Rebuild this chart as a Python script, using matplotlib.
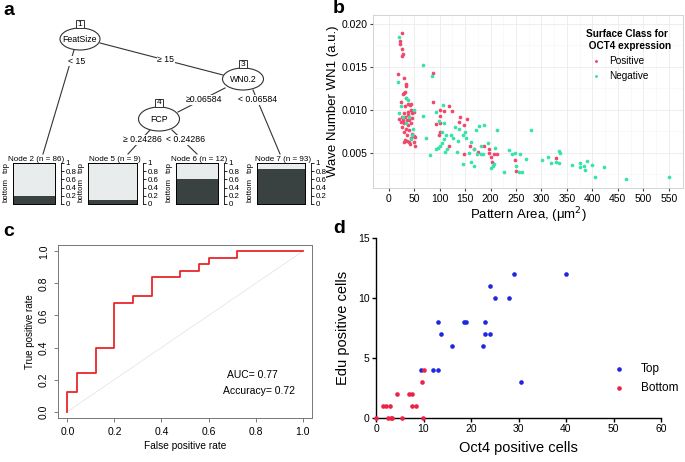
import matplotlib
matplotlib.use("Agg")
import matplotlib.pyplot as plt
from matplotlib.patches import Ellipse, Rectangle
from matplotlib.lines import Line2D

plt.rcParams['font.family'] = ['Liberation Sans', 'DejaVu Sans']

W, H = 685, 462

# ---- panel a: decision tree leaves ----
leaf_names = ["Node 2 (n = 86)", "Node 5 (n = 9)", "Node 6 (n = 12)", "Node 7 (n = 93)"]
leaf_bottom = [0.19, 0.10, 0.60, 0.85]
leaf_ticks = [0, 0.2, 0.4, 0.6, 0.8, 1]
leaf_ticklabels = ["0", "0.2", "0.4", "0.6", "0.8", "1"]

# ---- panel b: pattern area vs wave number ----
pos_area = [26, 23, 22, 25, 27, 26, 18, 30, 33, 31, 28,
            33, 29, 34, 24, 37, 41, 32, 43, 29.5, 25, 32, 37, 28, 35, 40, 30, 37, 43, 46,
            33, 40, 29, 46, 35, 43, 32, 50, 50, 40, 29, 35, 24, 26, 38, 46, 21, 44, 50, 52, 52, 42,
            86, 86, 100, 109, 119, 124, 93, 100, 100, 100, 153, 147, 118, 147, 160, 168, 175,
            188, 196, 196, 201, 203, 207, 212, 247, 249, 328, 140, 138, 98]
pos_wn = [0.0189, 0.0180, 0.0176, 0.0170, 0.0165, 0.0162, 0.0142, 0.0137, 0.0130, 0.0120, 0.0118,
          0.0127, 0.0119, 0.0113, 0.0109, 0.0107, 0.0106, 0.0104, 0.0100, 0.0096, 0.0092, 0.0092,
          0.0094, 0.0088, 0.0088, 0.0088, 0.0084, 0.0082, 0.0084, 0.0090,
          0.0077, 0.0076, 0.0074, 0.0072, 0.0070, 0.0067, 0.0065, 0.0069, 0.0063, 0.0062, 0.0062,
          0.0064, 0.0086, 0.0080, 0.0097, 0.0096, 0.0089, 0.0107, 0.0097, 0.0068, 0.0058, 0.0060,
          0.0143, 0.0109, 0.0100, 0.0098, 0.0104, 0.0098, 0.0083, 0.0093, 0.0084, 0.0074, 0.0089,
          0.0082, 0.0058, 0.0049, 0.0058, 0.0054, 0.0051, 0.0058, 0.0054, 0.0050, 0.0045, 0.0039,
          0.0048, 0.0048, 0.0041, 0.0029, 0.0044, 0.0092, 0.0086, 0.0070]
neg_area = [21, 19, 33, 38, 24, 21, 39, 33, 47, 46, 43, 68, 85, 68, 74, 106, 93, 109, 98,
            81, 92, 96, 100, 104, 108, 113, 104, 110, 115, 123, 126, 130, 136, 137, 145, 149,
            151, 135, 145, 157, 161, 167, 172, 177, 188, 212, 162, 168, 174, 181, 181, 185,
            195, 209, 201, 204, 206, 227, 237, 242, 247, 258, 269, 250, 256, 262, 280, 301,
            313, 319, 328, 334, 336, 335, 359, 376, 376, 384, 386, 389, 400, 405, 422, 466,
            550, 50, 28]
neg_wn = [0.0185, 0.0132, 0.0113, 0.0111, 0.0104, 0.0096, 0.0091, 0.0084, 0.0077, 0.0071,
          0.0066, 0.0152, 0.0139, 0.0093, 0.0067, 0.0105, 0.0097, 0.0084, 0.0087,
          0.0047, 0.0054, 0.0055, 0.0058, 0.0061, 0.0066, 0.0070, 0.0074, 0.0051, 0.0054,
          0.0070, 0.0067, 0.0080, 0.0064, 0.0078, 0.0070, 0.0074, 0.0067, 0.0051, 0.0037,
          0.0050, 0.0062, 0.0054, 0.0076, 0.0081, 0.0082, 0.0076, 0.0039, 0.0035, 0.0049,
          0.0048, 0.0058, 0.0049, 0.0061, 0.0055, 0.0032, 0.0035, 0.0037, 0.0028, 0.0053,
          0.0049, 0.0050, 0.0048, 0.0043, 0.0035, 0.0028, 0.0028, 0.0076, 0.0041, 0.0045,
          0.0038, 0.0039, 0.0052, 0.0050, 0.0038, 0.0036, 0.0038, 0.0033, 0.0034, 0.0030,
          0.0040, 0.0036, 0.0022, 0.0033, 0.0019, 0.0022, 0.0100, 0.0091]

# ---- panel c: ROC curve ----
fpr = [0, 0, 0.04, 0.04, 0.12, 0.12, 0.20, 0.20, 0.28, 0.28, 0.36, 0.36, 0.48, 0.48,
       0.56, 0.56, 0.60, 0.60, 0.72, 0.72, 1.0]
tpr = [0, 0.12, 0.12, 0.24, 0.24, 0.40, 0.40, 0.68, 0.68, 0.72, 0.72, 0.84, 0.84, 0.88,
       0.88, 0.92, 0.92, 0.96, 0.96, 1.0, 1.0]

# ---- panel d: Oct4 vs Edu ----
top_oct4 = [40, 29, 24, 25, 28, 13, 18.5, 19, 23, 13.6, 23, 24, 16, 22.5, 9.5, 12, 13, 30.5]
top_edu = [12, 12, 11, 10, 10, 8, 8, 8, 8, 7, 7, 7, 6, 6, 4, 4, 4, 3]
bot_oct4 = [10, 9.6, 4.5, 7, 7.5, 1.5, 2, 3, 7.5, 8.5, 0, 2.6, 3.1, 3.4, 5.4, 9.8]
bot_edu = [4, 3, 2, 2, 2, 1, 1, 1, 1, 1, 0, 0, 0, 0, 0, 0]


def box(x0, y0, x1, y1):
    return [x0 / W, 1 - y1 / H, (x1 - x0) / W, (y1 - y0) / H]


fig = plt.figure(figsize=(6.85, 4.62), dpi=100)

# tree drawing layer in pixel coordinates
ax0 = fig.add_axes([0, 0, 1, 1])
ax0.set_xlim(0, W)
ax0.set_ylim(H, 0)
ax0.axis("off")

edges = [((74, 50), (43, 154), "< 15", (77, 61)),
         ((100, 43), (223, 75), "\u2265 15", (166, 60)),
         ((225, 88), (178, 112), "\u22650.06584", (204, 100)),
         ((253, 90), (280, 154), "< 0.06584", (258, 100)),
         ((150, 130), (128, 154), "\u2265 0.24286", (142, 140)),
         ((172, 130), (197, 154), "< 0.24286", (186, 140))]
for p0, p1, lab, lp in edges:
    ax0.add_line(Line2D([p0[0], p1[0]], [p0[1], p1[1]], color="#333333", lw=0.8, zorder=1))
    ax0.text(lp[0], lp[1], lab, fontsize=6.3, ha="center", va="center", zorder=3,
             bbox=dict(fc="white", ec="none", pad=0.3))

inner = [(80, 39, 40, 22, "FeatSize", "1"),
         (243, 79, 41, 22, "WN0.2", "3"),
         (159, 119, 41, 24, "FCP", "4")]
for cx, cy, ew, eh, name, nid in inner:
    ax0.add_patch(Ellipse((cx, cy), ew, eh, fc="white", ec="#333333", lw=0.8, zorder=2))
    ax0.text(cx, cy, name, fontsize=6.3, ha="center", va="center", zorder=3)
    ax0.add_patch(Rectangle((cx - 4, cy - eh / 2 - 8), 8, 8, fc="white", ec="#333333",
                            lw=0.7, zorder=3))
    ax0.text(cx, cy - eh / 2 - 4, nid, fontsize=6, ha="center", va="center", zorder=4)

leaf_x = [(13, 55), (88, 137), (176, 218), (257, 305)]
for (x0, x1), name, frac in zip(leaf_x, leaf_names, leaf_bottom):
    ax = fig.add_axes(box(x0, 163, x1, 204))
    ax.bar(0.5, frac, width=1, color="#3a4141", edgecolor="none")
    ax.bar(0.5, 1 - frac, bottom=frac, width=1, color="#e9ecec", edgecolor="none")
    ax.set_xlim(0, 1)
    ax.set_ylim(0, 1)
    ax.set_xticks([])
    ax.set_yticks([])
    for s in ax.spines.values():
        s.set_linewidth(0.7)
    ax2 = ax.twinx()
    ax2.set_ylim(0, 1)
    ax2.set_yticks(leaf_ticks, leaf_ticklabels)
    ax2.tick_params(axis="y", length=2.5, width=0.6, pad=1, labelsize=5.7)
    for k in ["top", "bottom", "left"]:
        ax2.spines[k].set_visible(False)
    ax2.spines["right"].set_position(("outward", 4))
    ax2.spines["right"].set_linewidth(0.6)
    fw = x1 - x0
    ax.text(-7 / fw, 0.9, "top", rotation=90, fontsize=5.6, ha="center", va="center",
            transform=ax.transAxes)
    ax.text(-7 / fw, 0.35, "bottom", rotation=90, fontsize=5.6, ha="center", va="center",
            transform=ax.transAxes)
    ax.text(0.55, 1.0, name, fontsize=5.8, ha="center", va="bottom", transform=ax.transAxes)

# ---- panel b ----
axb = fig.add_axes(box(373, 15, 683, 188))
axb.scatter(pos_area, pos_wn, s=7, color="#f0476b", lw=0, label="Positive", zorder=3)
axb.scatter(neg_area, neg_wn, s=7, color="#36e3a8", lw=0, label="Negative", zorder=3)
axb.set_xlim(-31, 578)
axb.set_ylim(0.0009, 0.0210)
axb.set_xticks(range(0, 551, 50))
axb.set_yticks([0.005, 0.010, 0.015, 0.020], ["0.005", "0.010", "0.015", "0.020"])
axb.set_xticks(range(25, 551, 50), minor=True)
axb.set_yticks([0.0025, 0.0075, 0.0125, 0.0175], minor=True)
axb.grid(True, which="major", color="#ebebeb", lw=0.6)
axb.grid(True, which="minor", color="#f5f5f5", lw=0.4)
axb.set_axisbelow(True)
axb.tick_params(which="major", labelsize=7.5, length=2.5, color="#444444", pad=1.5)
axb.tick_params(which="minor", length=0)
for s in axb.spines.values():
    s.set_color("#cccccc")
    s.set_linewidth(0.6)
axb.set_xlabel("Pattern Area, (\u03bcm$^2$)", fontsize=9.5, labelpad=1)
axb.set_ylabel("Wave Number WN1 (a.u.)", fontsize=9.5, labelpad=2)
legb = axb.legend(title="Surface Class for\n OCT4 expression", loc="upper right",
                  bbox_to_anchor=(0.985, 0.96), frameon=False, fontsize=7.2,
                  title_fontproperties={"weight": "bold", "size": 7.2},
                  handletextpad=0.3, markerscale=0.8, borderpad=0.2, labelspacing=0.5)
legb._legend_box.align = "left"

# ---- panel c ----
axc = fig.add_axes(box(58, 245, 312, 418))
axc.plot([0, 1], [0, 1], color="#e6e6e6", lw=0.6)
axc.plot(fpr, tpr, color="#e8262b", lw=1.3)
axc.set_xlim(-0.04, 1.04)
axc.set_ylim(-0.04, 1.04)
axc.set_xticks([0, 0.2, 0.4, 0.6, 0.8, 1.0], ["0.0", "0.2", "0.4", "0.6", "0.8", "1.0"])
axc.set_yticks([0, 0.2, 0.4, 0.6, 0.8, 1.0], ["0.0", "0.2", "0.4", "0.6", "0.8", "1.0"])
axc.tick_params(labelsize=7.5, length=3, width=0.6, color="#666666")
plt.setp(axc.get_yticklabels(), rotation=90, va="center")
for s in axc.spines.values():
    s.set_color("#777777")
    s.set_linewidth(0.7)
axc.set_xlabel("False positive rate", fontsize=7.3, labelpad=3)
axc.set_ylabel("True positive rate", fontsize=7, labelpad=3)
axc.text(0.68, 0.21, "AUC= 0.77", fontsize=7.5)
axc.text(0.66, 0.11, "Accuracy= 0.72", fontsize=7.5)

# ---- panel d ----
axd = fig.add_axes(box(376, 238, 661, 418))
axd.scatter(top_oct4, top_edu, s=11, color="#2127e0", lw=0, label="Top", clip_on=False, zorder=3)
axd.scatter(bot_oct4, bot_edu, s=11, color="#ee2244", lw=0, label="Bottom", clip_on=False, zorder=3)
axd.set_xlim(0, 60)
axd.set_ylim(0, 15)
axd.set_xticks(range(0, 61, 10))
axd.set_yticks([0, 5, 10, 15])
axd.spines["top"].set_visible(False)
axd.spines["right"].set_visible(False)
for k in ["left", "bottom"]:
    axd.spines[k].set_linewidth(1.0)
axd.tick_params(labelsize=7.5, length=3, width=1.0, pad=1.5)
axd.set_xlabel("Oct4 positive cells", fontsize=10.5, labelpad=5)
axd.set_ylabel("Edu positive cells", fontsize=10.5, labelpad=6)
axd.legend(loc="upper left", bbox_to_anchor=(597 / W, 1 - 352 / H),
           bbox_transform=fig.transFigure, frameon=False, fontsize=8.5,
           handletextpad=0.8, labelspacing=0.6)

# panel letters
for lx, ly, t in [(3, 15, "a"), (333, 13, "b"), (3, 236, "c"), (333, 233, "d")]:
    fig.text(lx / W, 1 - ly / H, t, fontsize=14, fontweight="bold", va="baseline")

fig.savefig("out.png", dpi=100)
